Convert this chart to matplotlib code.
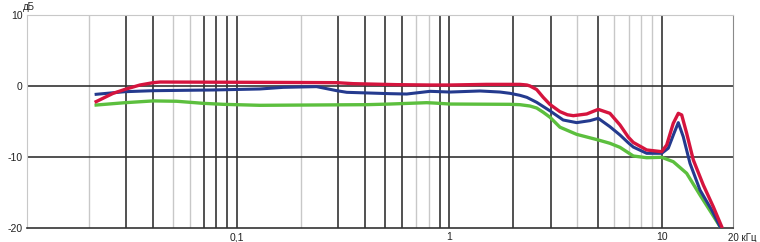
import numpy as np
import matplotlib
matplotlib.use('Agg')
import matplotlib.pyplot as plt
import matplotlib.transforms as mtransforms

# frequency, kHz / level, dB
red_f = [0.0217, 0.0261, 0.0297, 0.0349, 0.0403, 0.0434, 0.115, 0.295, 0.352, 0.565, 0.811, 1.008,
         1.50, 2.15, 2.32, 2.40, 2.58, 2.77, 2.98, 3.32, 3.6, 3.84, 4.44, 5.03, 5.71, 6.37, 6.97, 7.36, 8.51,
         10.01, 10.57, 11.35, 11.99, 12.44, 13.13, 14.11, 15.72, 17.52, 19.19]
red_db = [-2.2, -1.03, -0.47, 0.14, 0.47, 0.56, 0.52, 0.47, 0.33, 0.19, 0.14, 0.14,
          0.23, 0.23, 0.14, 0.0, -0.5, -1.6, -2.6, -3.61, -4.05, -4.18, -3.94, -3.29, -3.85, -5.49, -7.2, -7.95, -9.01,
          -9.25, -8.31, -5.26, -3.85, -4.08, -6.67, -10.42, -13.94, -17.0, -19.8]

blue_f = [0.0217, 0.0297, 0.0403, 0.0771, 0.128, 0.165, 0.237, 0.295, 0.329, 0.526, 0.630, 0.811,
          1.008, 1.395, 1.733, 1.93, 2.15, 2.32, 2.58, 2.98, 3.44, 3.98, 4.60, 5.03, 5.71, 6.37, 6.97,
          7.36, 8.51, 10.01, 10.75, 11.44, 11.99, 12.65, 13.61, 15.17, 17.22, 18.84]
blue_db = [-1.17, -0.8, -0.66, -0.56, -0.42, -0.19, -0.09, -0.66, -0.89, -1.08, -1.13, -0.75,
           -0.85, -0.7, -0.85, -1.03, -1.31, -1.6, -2.3, -3.5, -4.79, -5.16, -4.88, -4.55, -5.73, -6.9, -8.0,
           -8.6, -9.48, -9.48, -8.77, -6.67, -5.16, -7.14, -10.89, -14.65, -17.46, -19.8]

green_f = [0.0217, 0.0297, 0.0403, 0.052, 0.0692, 0.0859, 0.128, 0.408, 0.526, 0.782, 0.85, 1.008,
           1.93, 2.15, 2.40, 2.58, 2.77, 2.98, 3.32, 3.98, 5.03, 5.71, 6.37, 6.97, 7.36, 8.51, 10.01, 11.35,
           13.13, 15.17, 17.22, 18.84]
green_db = [-2.68, -2.35, -2.1, -2.15, -2.44, -2.58, -2.72, -2.63, -2.54, -2.35, -2.4, -2.54,
            -2.58, -2.63, -2.82, -3.1, -3.7, -4.4, -5.8, -6.81, -7.6, -8.07, -8.64, -9.4, -9.86, -10.1, -10.04, -10.66,
            -12.3, -15.35, -17.93, -19.8]

dark_x = [0.03, 0.04, 0.07, 0.08, 0.09, 0.1, 0.3, 0.4, 0.5, 0.6, 0.9, 1, 2, 3, 5, 10]
light_x = [0.02, 0.05, 0.06, 0.2, 0.7, 0.8, 4, 6, 7, 8, 9]
x_ticks = [0.1, 1, 10]
x_labels = ['0,1', '1', '10']
y_ticks = [-20, -10, 0, 10]
y_labels = ['-20', '-10', '0', '10']

plt.rcParams['font.family'] = ['Liberation Sans', 'DejaVu Sans']

fig = plt.figure(figsize=(7.6, 2.42), dpi=100)
ax = fig.add_axes([27 / 760, 1 - 228 / 242, 706 / 760, 213 / 242])
ax.set_xscale('log')
ax.set_xlim(0.01025, 21.7)
ax.set_ylim(-20, 10)

for x in light_x:
    ax.axvline(x, color='#c8c8c8', lw=1.0, zorder=1)
for x in dark_x:
    ax.axvline(x, color='#333333', lw=1.2, zorder=1)
for y in [0, -10]:
    ax.axhline(y, color='#333333', lw=1.2, zorder=1)

ax.plot(green_f, green_db, color='#5cbf3e', lw=2.4, zorder=3, solid_joinstyle='round')
ax.plot(blue_f, blue_db, color='#243a8e', lw=2.2, zorder=4, solid_joinstyle='round')
ax.plot(red_f, red_db, color='#d5143e', lw=2.4, zorder=5, solid_joinstyle='round')

for side in ['top', 'left']:
    ax.spines[side].set_color('#c8c8c8')
ax.spines['right'].set_color('#8a8a8a')
ax.spines['bottom'].set_color('#333333')
ax.spines['bottom'].set_linewidth(1.2)

ax.set_xticks(x_ticks)
ax.set_xticklabels(x_labels)
ax.xaxis.set_minor_locator(matplotlib.ticker.NullLocator())
ax.set_yticks(y_ticks)
ax.set_yticklabels(y_labels)
ax.tick_params(length=0, labelsize=7.5, colors='#222222', pad=3)

trans = mtransforms.blended_transform_factory(ax.transAxes, ax.transAxes)
ax.text(0.993, -0.025, '20 кГц', transform=trans, ha='left', va='top', fontsize=7, color='#222222')
ax.text(-0.006, 1.012, 'дБ', transform=trans, ha='left', va='bottom', fontsize=7, color='#222222')

plt.savefig('out.png', dpi=100)
plt.close()
